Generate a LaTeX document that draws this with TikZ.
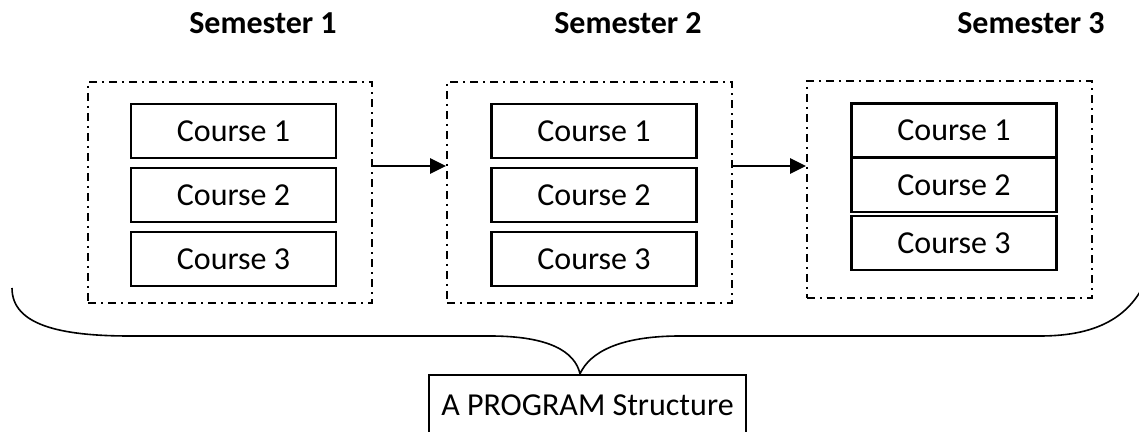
\documentclass[tikz,border=0pt]{standalone}
\usepackage{fontspec}
\setmainfont{Carlito}
\usetikzlibrary{arrows.meta}

\begin{document}
\begin{tikzpicture}[x=0.5pt,y=-0.5pt]
    \tikzset{SemStyle/.style = {draw, line width=1pt, inner sep=0pt,
                                dash pattern=on 4pt off 2.5pt on 1pt off 2.5pt}}
    \tikzset{CourseStyle/.style = {draw, line width=1.2pt, inner sep=0pt,
                                   minimum width=102.5pt, minimum height=27pt,
                                   font=\fontsize{16}{19}\selectfont}}
    \tikzset{LabelStyle/.style = {anchor=base, font=\fontsize{16}{19}\selectfont\bfseries}}
    \tikzset{FlowStyle/.style = {line width=1.4pt, -{Triangle[length=8pt,width=7.5pt]}}}
    \useasboundingbox (0,0) rectangle (1139,432);

    \node[LabelStyle] (L1) at (263,34) {Semester 1};
    \node[LabelStyle] (L2) at (628,34) {Semester 2};
    \node[LabelStyle] (L3) at (1031,34) {Semester 3};

    \node[SemStyle, minimum width=142pt, minimum height=110.5pt] (S1) at (230,192.5) {};
    \node[SemStyle, minimum width=142.5pt, minimum height=110.5pt] (S2) at (589.5,192.5) {};
    \node[SemStyle, minimum width=142.5pt, minimum height=108.5pt] (S3) at (949.5,189.5) {};

    \node[CourseStyle] (A1) at (233.5,131) {Course 1};
    \node[CourseStyle] (A2) at (233.5,195) {Course 2};
    \node[CourseStyle] (A3) at (233.5,259) {Course 3};

    \node[CourseStyle] (B1) at (594,131) {Course 1};
    \node[CourseStyle] (B2) at (594,195) {Course 2};
    \node[CourseStyle] (B3) at (594,259) {Course 3};

    \node[CourseStyle] (C1) at (954,130.5) {Course 1};
    \node[CourseStyle] (C2) at (954,185) {Course 2};
    \node[CourseStyle] (C3) at (954,243) {Course 3};

    \draw[FlowStyle] ([yshift=13.25pt]S1.east) -- ([yshift=13.25pt]S1.east -| S2.west);
    \draw[FlowStyle] ([yshift=13.25pt]S2.east) -- ([yshift=13.25pt]S2.east -| S3.west);

    \node[draw, line width=1.2pt, minimum width=158.5pt, minimum height=30pt,
          font=\fontsize{16}{19}\selectfont] (P) at (587.5,405) {A PROGRAM Structure};

    % the brace
    \draw[line width=0.8pt] (12,288) .. controls (12,325) and (60,336) .. (130,336)
        -- (490,336) .. controls (550,336) and (575,352) .. ([xshift=-3.75pt]P.north)
        .. controls (590,352) and (620,336) .. (680,336)
        -- (1040,336) .. controls (1100,336) and (1135,315) .. (1150,270);
\end{tikzpicture}
\end{document}
